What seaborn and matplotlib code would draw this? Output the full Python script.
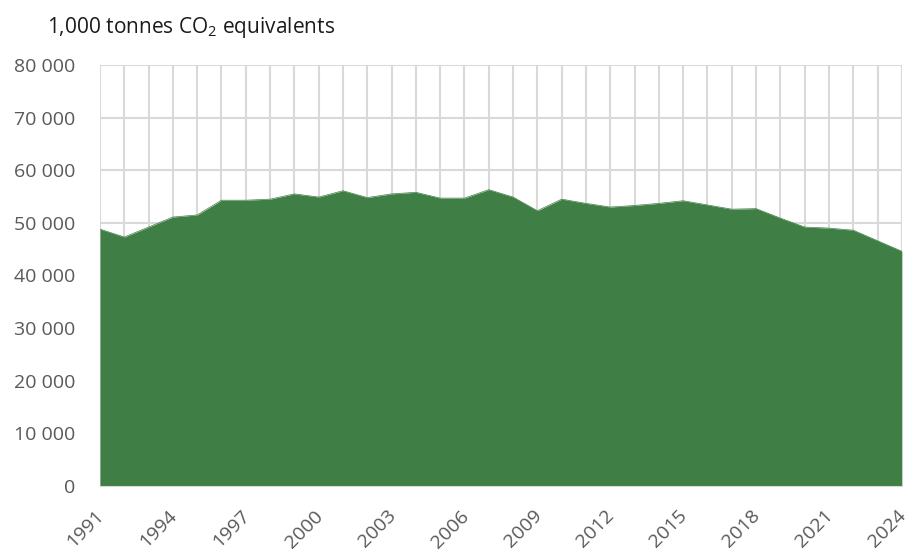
import numpy as np
import pandas as pd
import matplotlib
matplotlib.use('Agg')
import matplotlib.pyplot as plt
import matplotlib.transforms as mtransforms
import seaborn as sns

# Emissions, 1,000 tonnes CO2 equivalents
years = list(range(1991, 2025))
emissions = [48800, 47300, 49200, 51100, 51500, 54300, 54300, 54500, 55500, 54900,
             56100, 54800, 55500, 55800, 54700, 54700, 56300, 54900, 52300, 54500,
             53700, 53000, 53300, 53700, 54200, 53400, 52600, 52700, 50900, 49200,
             49000, 48600, 46600, 44600]
tick_years = list(range(1991, 2025, 3))
y_ticks = list(range(0, 80001, 10000))

df = pd.DataFrame({'year': years, 'emissions': emissions})

sns.set_style('white')
plt.rcParams['font.family'] = ['Open Sans', 'DejaVu Sans']
plt.rcParams['mathtext.fontset'] = 'custom'
plt.rcParams['mathtext.rm'] = 'Open Sans'

fig = plt.figure(figsize=(9.05, 5.5), dpi=100)
ax = fig.add_axes([0.1105, 0.1164, 0.886, 0.7655])

green = '#3f7e45'
sns.lineplot(data=df, x='year', y='emissions', ax=ax, color=green, linewidth=0.5)
ax.fill_between(df['year'], df['emissions'], 0, color=green, linewidth=0, zorder=2)

ax.set_xlim(1991, 2024)
ax.set_ylim(0, 80000)
ax.set_xticks(years, minor=True)
ax.set_xticks(tick_years)
ax.set_xticklabels([str(y) for y in tick_years], rotation=45, ha='right',
                   rotation_mode='anchor', fontsize=14, color='#595959')
ax.set_yticks(y_ticks)
ax.set_yticklabels([f'{v:,}'.replace(',', ' ') for v in y_ticks], fontsize=14, color='#595959')
ax.grid(True, which='both', axis='x', color='#d9d9d9', linewidth=1.5, zorder=0)
ax.grid(True, which='major', axis='y', color='#d9d9d9', linewidth=1.5, zorder=0)
ax.set_axisbelow(True)
ax.tick_params(axis='both', which='both', length=0)
ax.tick_params(axis='y', pad=18)
ax.tick_params(axis='x', pad=15)
shift = mtransforms.ScaledTranslation(-5 / 100, 0, fig.dpi_scale_trans)
for lbl in ax.get_xticklabels():
    lbl.set_transform(lbl.get_transform() + shift)
for side in ['top', 'right', 'left']:
    ax.spines[side].set_visible(False)
ax.spines['bottom'].set_color('#d9d9d9')
ax.set_xlabel('')
ax.set_ylabel('')

fig.text(0.052, 0.95, r'1,000 tonnes CO$_\mathregular{2}$ equivalents',
         fontsize=15, color='#1a1a1a', va='center', ha='left')

fig.savefig('out.png', dpi=100)
